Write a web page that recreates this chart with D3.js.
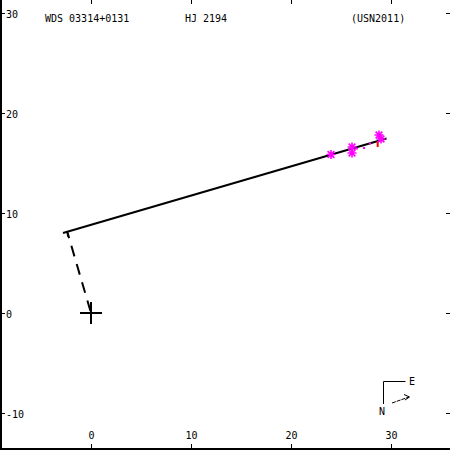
<!DOCTYPE html>
<html>
<head>
<meta charset="utf-8">
<script src="https://cdn.jsdelivr.net/npm/d3@7"></script>
<style>
  body { margin: 0; background: #fff; }
  svg { display: block; }
  text { font-family: "DejaVu Sans Mono", monospace; font-size: 10px; fill: #000; }
</style>
</head>
<body>
<div id="chart"></div>
<script>
var titles = ["WDS 03314+0131", "HJ 2194", "(USN2011)"];
var xTicks = [0, 10, 20, 30];
var yTicks = [-10, 0, 10, 20, 30];

// measured positions (magenta asterisks)
var obsX = [24.0, 26.1, 26.1, 28.8, 29.0];
var obsY = [15.85, 16.6, 16.0, 17.8, 17.4];
// small magenta dots
var dotX = [26.6, 27.3, 27.9];
var dotY = [16.45, 16.5, 16.95];
// linear fit line ends
var fitX = [-2.8, 29.55];
var fitY = [8.0, 17.45];
// red o-c segment
var ocX = [28.67, 28.67];
var ocY = [17.2, 16.6];

var width = 450, height = 450;

var x = d3.scaleLinear().domain([-9.1, 35.9]).range([0, width]);
var y = d3.scaleLinear().domain([31.3, -13.7]).range([0, height]);

var svg = d3.select("#chart").append("svg")
  .attr("width", width)
  .attr("height", height);

// frame: left + bottom
svg.append("line")
  .attr("x1", 1).attr("y1", 0).attr("x2", 1).attr("y2", height)
  .style("stroke", "#000").style("stroke-width", 2);
svg.append("line")
  .attr("x1", 0).attr("y1", height - 1).attr("x2", width).attr("y2", height - 1)
  .style("stroke", "#000").style("stroke-width", 2);

// x ticks (bottom + top)
var xt = svg.append("g");
xTicks.forEach(function(v) {
  var px = Math.round(x(v)) + 0.5;
  xt.append("line").attr("x1", px).attr("x2", px).attr("y1", height - 6).attr("y2", height)
    .style("stroke", "#000");
  xt.append("line").attr("x1", px).attr("x2", px).attr("y1", 0).attr("y2", 4)
    .style("stroke", "#000");
  xt.append("text").attr("x", px).attr("y", 438.5)
    .attr("text-anchor", "middle").text(v);
});

// y ticks (left + right)
var yt = svg.append("g");
yTicks.forEach(function(v) {
  var py = Math.round(y(v)) + 0.5;
  yt.append("line").attr("x1", 0).attr("x2", 5).attr("y1", py).attr("y2", py)
    .style("stroke", "#000");
  yt.append("line").attr("x1", width - 4).attr("x2", width).attr("y1", py).attr("y2", py)
    .style("stroke", "#000");
  yt.append("text").attr("x", 6).attr("y", py + 4).text(v);
});

// titles
var titleX = [45, 185, 351];
titles.forEach(function(t, i) {
  svg.append("text").attr("x", titleX[i]).attr("y", 21.5).text(t);
});

// fit line
var fit = d3.range(fitX.length).map(function(i) { return [fitX[i], fitY[i]]; });
var line = d3.line().x(function(d) { return x(d[0]); }).y(function(d) { return y(d[1]); });
svg.append("path")
  .attr("d", line(fit))
  .style("fill", "none").style("stroke", "#000").style("stroke-width", 2);

// perpendicular from origin to fit line
var dx = fitX[1] - fitX[0], dy = fitY[1] - fitY[0];
var t = -(fitX[0] * dx + fitY[0] * dy) / (dx * dx + dy * dy);
var foot = [fitX[0] + t * dx, fitY[0] + t * dy];
svg.append("path")
  .attr("d", line([[0, 0], foot]))
  .style("fill", "none").style("stroke", "#000").style("stroke-width", 2)
  .style("stroke-dasharray", "11,8").style("stroke-dashoffset", -2);
// small tick at foot
svg.append("line")
  .attr("x1", x(foot[0])).attr("y1", y(foot[1]))
  .attr("x2", x(foot[0]) + 0.6).attr("y2", y(foot[1]) + 5)
  .style("stroke", "#000").style("stroke-width", 1.5);

// origin cross
var cx = x(0), cy = y(0);
svg.append("line").attr("x1", cx - 11).attr("x2", cx + 11).attr("y1", cy).attr("y2", cy)
  .style("stroke", "#000").style("stroke-width", 2);
svg.append("line").attr("x1", cx).attr("x2", cx).attr("y1", cy - 11).attr("y2", cy + 11)
  .style("stroke", "#000").style("stroke-width", 2);

// red o-c
svg.append("line")
  .attr("x1", x(ocX[0])).attr("y1", y(ocY[0]))
  .attr("x2", x(ocX[1])).attr("y2", y(ocY[1]))
  .style("stroke", "#ff0000").style("stroke-width", 2);

// observations as asterisks
var r = 4.5;
var star = "M" + (-r) + ",0L" + r + ",0M0," + (-r) + "L0," + r +
  "M" + (-r * 0.75) + "," + (-r * 0.75) + "L" + (r * 0.75) + "," + (r * 0.75) +
  "M" + (-r * 0.75) + "," + (r * 0.75) + "L" + (r * 0.75) + "," + (-r * 0.75);
svg.append("g").selectAll("path")
  .data(d3.range(obsX.length))
  .enter()
  .append("path")
  .attr("transform", function(i) { return "translate(" + x(obsX[i]) + "," + y(obsY[i]) + ")"; })
  .attr("d", star)
  .style("fill", "none").style("stroke", "#ff00ff").style("stroke-width", 1.6);

svg.append("g").selectAll("rect")
  .data(d3.range(dotX.length))
  .enter()
  .append("rect")
  .attr("x", function(i) { return x(dotX[i]) - 1; })
  .attr("y", function(i) { return y(dotY[i]) - 1; })
  .attr("width", 2).attr("height", 2)
  .style("fill", "#ff00ff");

// compass
var comp = svg.append("g");
comp.append("path")
  .attr("d", "M405.5,381.5H383.5V404")
  .style("fill", "none").style("stroke", "#000");
comp.append("text").attr("x", 409).attr("y", 384.5).text("E");
comp.append("text").attr("x", 379).attr("y", 415).text("N");
comp.append("line").attr("x1", 392).attr("y1", 403).attr("x2", 409).attr("y2", 397)
  .style("stroke", "#000").style("stroke-dasharray", "4,1");
comp.append("path").attr("d", "M404,394.5L409.5,397L405,400")
  .style("fill", "none").style("stroke", "#000");
</script>
</body>
</html>
